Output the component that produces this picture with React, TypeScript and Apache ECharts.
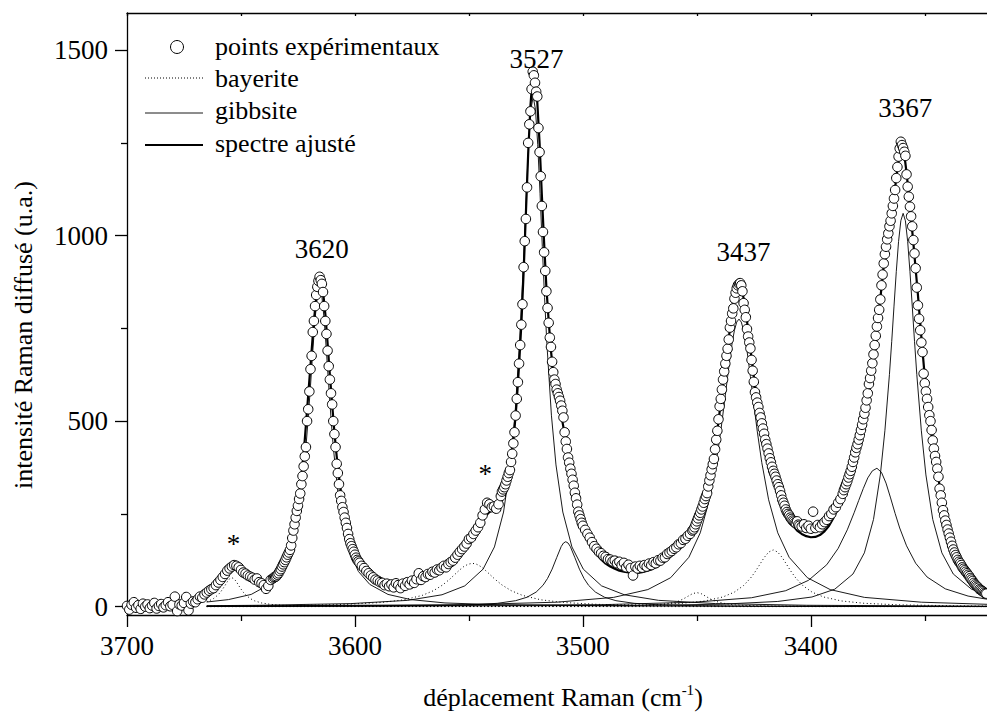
import React, { useEffect, useRef } from 'react';
import * as echarts from 'echarts';

const FONT = 'Liberation Serif';

// ---- axis ticks ----
const xMajorTicks = [3700, 3600, 3500, 3400];
const xMinorTicks = [3650, 3550, 3450, 3350];
const xTopTicks = [3700, 3650, 3600, 3550, 3500, 3450, 3400, 3350];
const yMajorTicks = [0, 500, 1000, 1500];
const yMinorTicks = [250, 750, 1250];

// ---- experimental points (segments: start shift, step, intensities) ----
const expStart = [3700, 3635.5, 3597, 3535.5, 3499, 3451.5, 3404, 3385.5];
const expStep = [1, 0.5, 1, 0.5, 1, 0.5, 1, 0.5];
const expSeg1 = [2, -8, 5, 12, -3, 4, -6, 8, 0, 6, -4, 3, 10, -5, 2, 7, -2, 4, 12, 1, 5, 27, -12, 6, 3, 10, 26, -10, 8, 14, 12, 20, 27, 24, 33, 38, 43, 47, 50, 58, 65, 72, 80, 88, 97, 103, 108, 112, 110, 106, 99, 92, 89, 84, 81, 78, 73, 76, 66, 63, 58, 48, 56, 72, 76];
const expSeg2 = [79, 80, 82, 86, 90, 96, 101, 108, 114, 120, 126, 133, 140, 146, 153, 165, 185, 205, 222, 240, 258, 272, 290, 305, 330, 352, 378, 405, 430, 500, 532, 580, 640, 676, 740, 770, 810, 840, 862, 878, 889, 880, 870, 848, 810, 770, 735, 690, 648, 612, 575, 545, 500, 465, 430, 385, 360, 330, 300, 285, 268, 255, 240, 226, 212, 196, 182, 171, 163, 155, 148, 140, 132, 126, 122, 118];
const expSeg3 = [110, 104, 96, 90, 84, 79, 73, 70, 66, 64, 58, 62, 55, 60, 52, 63, 58, 50, 62, 56, 66, 60, 70, 64, 74, 90, 72, 82, 80, 88, 86, 94, 92, 100, 98, 105, 110, 106, 115, 120, 124, 132, 140, 148, 155, 162, 170, 182, 186, 196, 205, 214, 226, 246, 262, 280, 276, 268, 270, 264, 276, 298];
const expSeg4 = [310, 316, 322, 330, 340, 350, 360, 368, 390, 412, 440, 470, 515, 560, 605, 655, 705, 760, 815, 915, 985, 1045, 1130, 1250, 1300, 1335, 1395, 1442, 1432, 1412, 1388, 1375, 1290, 1225, 1160, 1080, 1010, 955, 905, 850, 805, 765, 725, 700, 660, 632, 612, 600, 585, 575, 565, 555, 542, 528, 510, 470, 445, 425, 402, 388, 372, 358, 342, 326, 307, 292, 275, 256, 246, 236, 226, 218];
const expSeg5 = [207, 196, 186, 174, 163, 156, 148, 144, 137, 134, 128, 127, 122, 124, 117, 121, 112, 118, 106, 113, 104, 84, 108, 103, 110, 105, 112, 108, 116, 112, 120, 117, 125, 124, 132, 133, 142, 146, 150, 156, 160, 168, 171, 180, 183, 191, 196, 205];
const expSeg6 = [208, 214, 222, 230, 238, 246, 253, 262, 270, 280, 290, 298, 306, 324, 340, 354, 370, 384, 398, 424, 450, 474, 505, 540, 560, 585, 612, 634, 655, 676, 695, 720, 752, 770, 790, 804, 830, 846, 858, 866, 870, 872, 866, 850, 818, 800, 780, 748, 728, 712, 696, 665, 636, 606, 578, 564, 550, 538, 522, 510, 494, 480, 466, 450, 438, 426, 413, 400, 389, 377, 366, 358, 350, 340, 330, 322, 312, 300, 288, 280, 272, 262, 255, 250, 246, 240, 236, 232, 229, 226, 224, 230, 221, 218];
const expSeg7 = [216, 222, 212, 218, 210, 256, 212, 220, 214, 222, 228, 234, 244, 250, 262, 268, 280, 290, 304];
const expSeg8 = [314, 322, 330, 338, 348, 357, 366, 377, 390, 402, 416, 428, 438, 450, 462, 476, 490, 505, 520, 536, 556, 575, 600, 616, 636, 656, 680, 705, 730, 755, 778, 800, 828, 866, 895, 925, 950, 970, 990, 1006, 1025, 1040, 1060, 1080, 1100, 1123, 1155, 1185, 1213, 1235, 1253, 1244, 1236, 1226, 1215, 1165, 1132, 1105, 1078, 1052, 1025, 988, 952, 912, 860, 812, 776, 745, 712, 686, 628, 602, 580, 560, 538, 516, 500, 476, 448, 426, 406, 390, 372, 350, 318, 300, 280, 260, 246, 232, 220, 208, 197, 186, 175, 164, 154, 146, 139, 133, 126, 121, 117, 112, 106, 102, 98, 94, 90, 86, 82, 77, 73, 69, 64, 60, 57, 54, 51, 47, 45, 43, 41, 38, 36, 35, 34, 32];
const expSegments = [expSeg1, expSeg2, expSeg3, expSeg4, expSeg5, expSeg6, expSeg7, expSeg8];

// ---- fitted spectrum [shift, intensity] ----
const fitSpectrum = [[3665, 33], [3663, 40], [3661, 52], [3659, 70], [3657, 86], [3656, 93], [3655, 98], [3654, 101], [3653, 101], [3652, 99], [3650, 92], [3648, 83], [3646, 75], [3644, 68], [3642, 63], [3640, 61], [3638, 64], [3636, 73], [3634, 85], [3632, 103], [3630, 130], [3628, 172], [3626, 235], [3624, 320], [3623, 380], [3622, 450], [3621, 530], [3620, 610], [3619, 690], [3618, 770], [3617, 830], [3616, 870], [3615.5, 885], [3615, 880], [3614, 850], [3613, 790], [3612, 710], [3611, 625], [3610, 545], [3609, 470], [3608, 405], [3607, 350], [3606, 303], [3605, 265], [3604, 232], [3603, 205], [3602, 182], [3601, 163], [3600, 147], [3598, 121], [3596, 102], [3594, 88], [3592, 77], [3590, 68], [3587, 59], [3584, 53], [3581, 50], [3578, 51], [3575, 55], [3572, 62], [3569, 70], [3566, 80], [3563, 92], [3560, 106], [3557, 122], [3554, 142], [3551, 165], [3548, 192], [3545, 222], [3543, 242], [3541, 255], [3539, 262], [3537, 276], [3535, 305], [3533, 345], [3532, 375], [3531, 420], [3530, 480], [3529, 555], [3528, 650], [3527, 760], [3526, 900], [3525, 1060], [3524, 1220], [3523, 1350], [3522, 1432], [3521.5, 1440], [3521, 1425], [3520, 1360], [3519, 1250], [3518, 1110], [3517, 980], [3516, 860], [3515, 770], [3514, 690], [3513, 630], [3512, 590], [3511, 560], [3510, 530], [3509, 500], [3508, 465], [3507, 425], [3506, 385], [3505, 348], [3504, 315], [3503, 285], [3502, 258], [3501, 235], [3500, 215], [3498, 183], [3496, 159], [3494, 141], [3492, 127], [3490, 116], [3488, 108], [3486, 102], [3484, 97], [3482, 94], [3480, 92], [3478, 91], [3476, 91], [3474, 93], [3472, 96], [3470, 100], [3468, 106], [3466, 113], [3464, 122], [3462, 132], [3460, 145], [3458, 160], [3456, 177], [3454, 195], [3452, 212], [3450, 232], [3448, 258], [3446, 295], [3444, 350], [3442, 425], [3440, 525], [3438, 628], [3436, 725], [3434, 810], [3433, 842], [3432, 862], [3431.5, 866], [3431, 864], [3430, 848], [3429, 815], [3428, 770], [3427, 720], [3426, 670], [3425, 620], [3424, 575], [3423, 538], [3422, 508], [3421, 480], [3420, 452], [3419, 425], [3418, 400], [3417, 377], [3416, 355], [3415, 335], [3414, 315], [3413, 295], [3412, 275], [3411, 258], [3410, 242], [3408, 220], [3406, 205], [3404, 196], [3402, 190], [3400, 187], [3398, 188], [3396, 193], [3394, 203], [3392, 218], [3390, 240], [3388, 268], [3386, 300], [3384, 338], [3382, 380], [3380, 430], [3378, 478], [3376, 530], [3374, 600], [3372, 700], [3370, 800], [3368, 920], [3366, 1010], [3364, 1085], [3363, 1130], [3362, 1180], [3361, 1225], [3360.5, 1245], [3360, 1248], [3359.5, 1240], [3359, 1220], [3358, 1170], [3357, 1110], [3356, 1045], [3355, 980], [3354, 910], [3353, 840], [3352, 765], [3351, 690], [3350, 620], [3349, 560], [3348, 505], [3347, 462], [3346, 420], [3345, 385], [3344, 345], [3343, 305], [3342, 268], [3341, 238], [3340, 212], [3338, 172], [3336, 140], [3334, 115], [3332, 96], [3330, 80], [3328, 67], [3326, 57], [3324, 50], [3322, 45]];

// ---- gibbsite components ----
const gibbsite3615 = [[3665, 12.5], [3655.5, 19], [3645.5, 33], [3637.5, 60], [3632.5, 95], [3628.5, 151], [3625.5, 228], [3623.5, 310], [3621.5, 430], [3620.5, 508], [3619.5, 595], [3618.5, 688], [3617.5, 774], [3616.5, 837], [3615.5, 860], [3614.5, 837], [3613.5, 774], [3612.5, 688], [3611.5, 595], [3610.5, 508], [3609.5, 430], [3607.5, 310], [3605.5, 228], [3602.5, 151], [3598.5, 95], [3593.5, 60], [3585.5, 33], [3575.5, 19], [3560.5, 10], [3535.5, 4.8], [3480, 1.7], [3400, 0.7], [3322, 0.4]];
const gibbsite3522 = [[3665, 2.6], [3641.8, 3.7], [3601.8, 8.2], [3576.8, 17], [3561.8, 32], [3551.8, 56], [3543.8, 101], [3538.8, 161], [3534.8, 255], [3531.8, 382], [3529.8, 516], [3527.8, 710], [3526.8, 833], [3525.8, 971], [3524.8, 1114], [3523.8, 1245], [3522.8, 1340], [3521.8, 1375], [3520.8, 1340], [3519.8, 1245], [3518.8, 1114], [3517.8, 971], [3516.8, 833], [3515.8, 710], [3513.8, 516], [3511.8, 382], [3508.8, 255], [3504.8, 161], [3499.8, 101], [3491.8, 56], [3481.8, 32], [3466.8, 17], [3441.8, 8.2], [3401.8, 3.7], [3322, 1.3]];
const gibbsite3507 = [[3665, 0.35], [3587.5, 1.3], [3562.5, 2.8], [3547.5, 5.2], [3537.5, 9], [3529.5, 16.1], [3524.5, 25.4], [3520.5, 39.3], [3517.5, 57.5], [3515.5, 76], [3513.5, 101], [3511.5, 132], [3509.5, 162], [3508.5, 171.5], [3507.5, 175], [3506.5, 171.5], [3505.5, 162], [3503.5, 132], [3501.5, 101], [3499.5, 76], [3497.5, 57.5], [3494.5, 39.3], [3490.5, 25.4], [3485.5, 16.1], [3477.5, 9], [3467.5, 5.2], [3452.5, 2.8], [3427.5, 1.3], [3322, 0.24]];
const gibbsite3431 = [[3665, 1.4], [3551.5, 5.3], [3511.5, 12], [3486.5, 25], [3471.5, 46], [3461.5, 78], [3453.5, 133], [3448.5, 199], [3444.5, 288], [3441.5, 388], [3439.5, 473], [3437.5, 570], [3436.5, 620], [3435.5, 668], [3434.5, 711], [3433.5, 745], [3432.5, 767], [3431.5, 775], [3430.5, 767], [3429.5, 745], [3428.5, 711], [3427.5, 668], [3426.5, 620], [3425.5, 570], [3423.5, 473], [3421.5, 388], [3418.5, 288], [3414.5, 199], [3409.5, 133], [3401.5, 78], [3391.5, 46], [3376.5, 25], [3351.5, 12], [3322, 6.2]];
const gibbsite3371 = [[3665, 0.9], [3491, 5.4], [3451, 12], [3426, 24], [3411, 43], [3401, 71], [3393, 113], [3388, 157], [3384, 207], [3381, 253], [3379, 286], [3377, 318], [3375, 347], [3373, 366], [3371, 373], [3369, 362], [3367, 333], [3365, 293], [3363, 251], [3361, 212], [3358, 164], [3354, 117], [3349, 80], [3341, 48], [3331, 28.5], [3322, 19.4]];
const gibbsite3359 = [[3665, 0.6], [3479.5, 3], [3439.5, 6.5], [3414.5, 14], [3399.5, 26], [3389.5, 47], [3381.5, 88], [3376.5, 145], [3372.5, 235], [3369.5, 355], [3367.5, 474], [3365.5, 626], [3364.5, 715], [3363.5, 810], [3362.5, 903], [3361.5, 984], [3360.5, 1040], [3359.5, 1060], [3358.5, 1040], [3357.5, 984], [3356.5, 903], [3355.5, 810], [3354.5, 715], [3353.5, 626], [3351.5, 474], [3349.5, 355], [3346.5, 235], [3342.5, 145], [3337.5, 88], [3329.5, 47], [3322, 30]];

// ---- bayerite components ----
const bayerite3654 = [[3665, 13.4], [3664, 15.6], [3662, 22], [3660, 32], [3659, 39], [3658, 47.6], [3657, 57], [3656, 67], [3655, 75], [3654, 78], [3653, 75], [3652, 67], [3651, 57], [3650, 47.6], [3649, 39], [3648, 32], [3646, 22], [3644, 15.6], [3641, 10], [3637, 6.2], [3632, 3.8], [3624, 2.1], [3599, 0.64], [3574, 0.3], [3322, 0.02]];
const bayerite3548 = [[3665, 1.44], [3628.5, 3], [3603.5, 6.2], [3588.5, 11.2], [3578.5, 18.5], [3570.5, 30.3], [3565.5, 43.2], [3561.5, 58.5], [3558.5, 73.5], [3556.5, 85], [3554.5, 96.5], [3552.5, 107], [3550.5, 114], [3548.5, 117], [3546.5, 114], [3544.5, 107], [3542.5, 96.5], [3540.5, 85], [3538.5, 73.5], [3535.5, 58.5], [3531.5, 43.2], [3526.5, 30.3], [3518.5, 18.5], [3508.5, 11.2], [3493.5, 6.2], [3468.5, 3], [3428.5, 1.4], [3322, 0.4]];
const bayerite3450 = [[3665, 0.03], [3510, 0.44], [3490, 1], [3480, 1.7], [3472, 3.05], [3467, 4.85], [3463, 7.6], [3460, 11.3], [3458, 15.1], [3456, 20.5], [3454, 27.6], [3452, 34.7], [3450, 38], [3448, 34.7], [3446, 27.6], [3444, 20.5], [3442, 15.1], [3440, 11.3], [3437, 7.6], [3433, 4.85], [3428, 3.05], [3420, 1.7], [3410, 1], [3390, 0.44], [3322, 0.1]];
const bayerite3416 = [[3665, 0.25], [3496.5, 2.35], [3471.5, 4.9], [3456.5, 9], [3446.5, 15.3], [3438.5, 26.2], [3433.5, 39.3], [3429.5, 56.9], [3426.5, 76.5], [3424.5, 93.3], [3422.5, 112.5], [3420.5, 132], [3418.5, 147], [3416.5, 153], [3414.5, 147], [3412.5, 132], [3410.5, 112.5], [3408.5, 93.3], [3406.5, 76.5], [3403.5, 56.9], [3399.5, 39.3], [3394.5, 26.2], [3386.5, 15.3], [3376.5, 9], [3361.5, 4.9], [3336.5, 2.35], [3322, 1.6]];

const gibbsiteBands = [gibbsite3615, gibbsite3522, gibbsite3507, gibbsite3431, gibbsite3371, gibbsite3359];
const bayeriteBands = [bayerite3654, bayerite3548, bayerite3450, bayerite3416];

// ---- annotations ----
const peakLabels = ['3620', '3527', '3437', '3367'];
const peakLabelShift = [3614.6, 3520.3, 3429.5, 3358.6];
const peakLabelIntensity = [965, 1477, 955, 1343];
const starShift = [3653.3, 3542.8];
const starIntensity = [170, 358];

const legendNames = ['points expérimentaux', 'bayerite', 'gibbsite', 'spectre ajusté'];

function buildExp() {
  const out: number[][] = [];
  expSegments.forEach((seg, i) => {
    seg.forEach((v, j) => {
      out.push([+(expStart[i] - j * expStep[i]).toFixed(2), v]);
    });
  });
  return out;
}

export default function App() {
  const ref = useRef<HTMLDivElement>(null);
  useEffect(() => {
    const chart = echarts.init(ref.current!, null, { renderer: 'svg' });
    const black = '#000';
    const lineTick = { color: black, width: 1.3 };
    const plain = (v: number) => String(v);
    const series: any[] = [];
    gibbsiteBands.forEach((band) => {
      series.push({
        type: 'line', name: 'gibbsite', data: band, symbol: 'none', showSymbol: false,
        lineStyle: { color: black, width: 0.9 }, z: 2, silent: true,
      });
    });
    bayeriteBands.forEach((band) => {
      series.push({
        type: 'line', name: 'bayerite', data: band, symbol: 'none', showSymbol: false,
        lineStyle: { color: black, width: 1, type: [1, 2.6] }, z: 2, silent: true,
      });
    });
    series.push({
      type: 'line', name: 'spectre ajusté', data: fitSpectrum, symbol: 'none', showSymbol: false,
      lineStyle: { color: black, width: 2.2 }, z: 3, silent: true,
    });
    series.push({
      type: 'scatter', name: 'points expérimentaux', data: buildExp(), symbol: 'circle', symbolSize: 9.5,
      itemStyle: { color: '#fff', borderColor: black, borderWidth: 1, opacity: 1 }, z: 5, silent: true,
      progressive: 0,
    });
    const annLabel = {
      show: true, position: 'inside', fontSize: 27, fontFamily: FONT, color: black,
      textBorderWidth: 0, opacity: 1,
    };
    series.push({
      type: 'scatter', name: 'labels', symbolSize: 1, z: 6, silent: true,
      itemStyle: { color: 'rgba(255,255,255,0)' },
      data: peakLabels.map((t, i) => ({ value: [peakLabelShift[i], peakLabelIntensity[i]], name: t })),
      label: { ...annLabel, formatter: (p: any) => p.name },
    });
    series.push({
      type: 'scatter', name: 'stars', symbolSize: 1, z: 6, silent: true,
      itemStyle: { color: 'rgba(255,255,255,0)' },
      data: starShift.map((s, i) => ({ value: [s, starIntensity[i]], name: '*' })),
      label: { ...annLabel, formatter: '*' },
    });

    const legendY = [46, 78, 110, 143];
    const lineY = [47, 78, 113, 145];

    chart.setOption({
      animation: false,
      backgroundColor: '#fff',
      grid: { left: 127, right: 0, top: 13, bottom: 98, containLabel: false },
      xAxis: [
        {
          type: 'value', min: 3322.7, max: 3700, inverse: true, position: 'bottom',
          axisLine: { show: true, onZero: false, lineStyle: lineTick },
          axisTick: { show: true, inside: false, length: 12, customValues: xMajorTicks, lineStyle: lineTick },
          axisLabel: { show: true, customValues: xMajorTicks, formatter: plain, fontSize: 27, fontFamily: FONT, color: black, margin: 17 },
          splitLine: { show: false },
        },
        {
          type: 'value', min: 3322.7, max: 3700, inverse: true, position: 'bottom',
          axisLine: { show: false, onZero: false },
          axisTick: { show: true, inside: false, length: 6, customValues: xMinorTicks, lineStyle: lineTick },
          axisLabel: { show: false },
          splitLine: { show: false },
        },
        {
          type: 'value', min: 3322.7, max: 3700, inverse: true, position: 'top',
          axisLine: { show: true, onZero: false, lineStyle: lineTick },
          axisTick: { show: true, inside: true, length: 3, customValues: xTopTicks, lineStyle: lineTick },
          axisLabel: { show: false },
          splitLine: { show: false },
        },
      ],
      yAxis: [
        {
          type: 'value', min: -22.5, max: 1600, position: 'left',
          axisLine: { show: true, onZero: false, lineStyle: lineTick },
          axisTick: { show: true, inside: false, length: 12, customValues: yMajorTicks, lineStyle: lineTick },
          axisLabel: { show: true, customValues: yMajorTicks, formatter: plain, fontSize: 27, fontFamily: FONT, color: black, margin: 19 },
          splitLine: { show: false },
        },
        {
          type: 'value', min: -22.5, max: 1600, position: 'left',
          axisLine: { show: false, onZero: false },
          axisTick: { show: true, inside: false, length: 6, customValues: yMinorTicks, lineStyle: lineTick },
          axisLabel: { show: false },
          splitLine: { show: false },
        },
      ],
      series,
      graphic: [
        {
          type: 'text', x: 563, y: 697, silent: true,
          style: {
            text: '{a|déplacement Raman (cm}{s|-1}{a|)}',
            rich: {
              a: { fontSize: 26, fontFamily: FONT, fill: black, lineHeight: 30 },
              s: { fontSize: 15, fontFamily: FONT, fill: black, verticalAlign: 'top', lineHeight: 30 },
            },
            align: 'center', verticalAlign: 'middle',
          },
        },
        {
          type: 'text', x: 23, y: 335, rotation: Math.PI / 2, silent: true,
          style: { text: 'intensité Raman diffusé (u.a.)', fontSize: 26, fontFamily: FONT, fill: black, align: 'center', verticalAlign: 'middle' },
        },
        { type: 'circle', shape: { cx: 177, cy: lineY[0], r: 6.5 }, style: { fill: '#fff', stroke: black, lineWidth: 1 }, silent: true },
        { type: 'line', shape: { x1: 145, y1: lineY[1], x2: 203, y2: lineY[1] }, style: { stroke: black, lineWidth: 1, lineDash: [1, 2] }, silent: true },
        { type: 'line', shape: { x1: 145, y1: lineY[2], x2: 203, y2: lineY[2] }, style: { stroke: black, lineWidth: 0.9 }, silent: true },
        { type: 'line', shape: { x1: 145, y1: lineY[3], x2: 203, y2: lineY[3] }, style: { stroke: black, lineWidth: 2.2 }, silent: true },
        ...legendNames.map((t, i) => ({
          type: 'text', x: 215, y: legendY[i], silent: true,
          style: { text: t, fontSize: 26, fontFamily: FONT, fill: black, align: 'left', verticalAlign: 'middle' },
        })),
      ],
    });
    return () => chart.dispose();
  }, []);
  return (
    <div
      ref={ref}
      style={{ position: 'fixed', left: 0, top: 0, width: 987, height: 713, background: '#fff' }}
    />
  );
}
